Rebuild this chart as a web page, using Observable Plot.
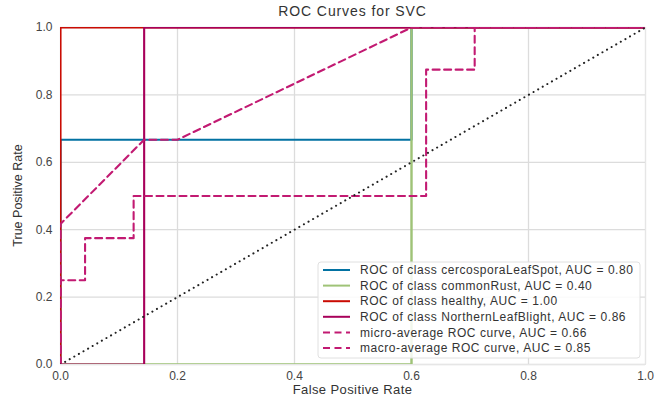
<!DOCTYPE html>
<html><head><meta charset="utf-8">
<script src="https://cdn.jsdelivr.net/npm/d3@7"></script>
<script src="https://cdn.jsdelivr.net/npm/@observablehq/plot@0.6"></script>
<style>
body{margin:0;background:#fff;}
#chart svg{font-family:"Liberation Sans",Arial,sans-serif;}
</style>
</head><body><div id="chart"></div>
<script>
const title = "ROC Curves for SVC";
const xLabel = "False Positive Rate";
const yLabel = "True Positive Rate";
const ticks = [0, 0.2, 0.4, 0.6, 0.8, 1.0];

const seriesNames = [
  "ROC of class cercosporaLeafSpot, AUC = 0.80",
  "ROC of class commonRust, AUC = 0.40",
  "ROC of class healthy, AUC = 1.00",
  "ROC of class NorthernLeafBlight, AUC = 0.86",
  "micro-average ROC curve, AUC = 0.66",
  "macro-average ROC curve, AUC = 0.85"
];
const seriesColors = ["#0272a2", "#9fc377", "#ca0b03", "#a8005a", "#c21a72", "#c21a72"];
const seriesDashed = [false, false, false, false, true, true];

const fpr0 = [0, 0, 0.6, 0.6, 1];
const tpr0 = [0, 0.667, 0.667, 1, 1];
const fpr1 = [0, 0.6, 0.6, 1];
const tpr1 = [0, 0, 1, 1];
const fpr2 = [0, 0, 1];
const tpr2 = [0, 1, 1];
const fpr3 = [0, 0.143, 0.143, 1];
const tpr3 = [0, 0, 1, 1];
const fprMicro = [0, 0, 0.143, 0.2, 0.6, 1];
const tprMicro = [0, 0.417, 0.667, 0.667, 1, 1];
const fprMacro = [0, 0, 0.042, 0.042, 0.125, 0.125, 0.625, 0.625, 0.708, 0.708, 1];
const tprMacro = [0, 0.25, 0.25, 0.375, 0.375, 0.5, 0.5, 0.875, 0.875, 1, 1];
const diagX = [0, 1];
const diagY = [0, 1];

const fprs = [fpr0, fpr1, fpr2, fpr3, fprMicro, fprMacro];
const tprs = [tpr0, tpr1, tpr2, tpr3, tprMicro, tprMacro];

const W = 655, H = 400;
const mL = 60, mR = 10, mT = 27, mB = 36;

const marks = [
  Plot.gridX(ticks, {stroke: "#dcdcdc", strokeOpacity: 1, strokeWidth: 1.3}),
  Plot.gridY(ticks, {stroke: "#dcdcdc", strokeOpacity: 1, strokeWidth: 1.3}),
  Plot.frame({stroke: "#e6e6e6", strokeWidth: 1})
];
fprs.forEach((f, i) => {
  const rows = f.map((x, j) => ({x, y: tprs[i][j]}));
  marks.push(Plot.line(rows, {
    x: "x", y: "y", stroke: seriesColors[i], strokeWidth: i === 1 ? 2.4 : 2.1,
    strokeDasharray: seriesDashed[i] ? "7,4.5" : null,
    curve: "linear", clip: true
  }));
});
marks.push(Plot.line(diagX.map((x, j) => ({x, y: diagY[j]})), {
  x: "x", y: "y", stroke: "#222", strokeWidth: 2, strokeDasharray: "0.1,5.2",
  strokeLinecap: "round", clip: true
}));

const plot = Plot.plot({
  width: W, height: H,
  marginLeft: mL, marginRight: mR, marginTop: mT, marginBottom: mB,
  style: {fontFamily: "Liberation Sans, Arial, sans-serif", fontSize: "12px", color: "#444", background: "#fff"},
  x: {domain: [0, 1], ticks: ticks, tickFormat: d3.format(".1f"), tickSize: 0, tickPadding: 7, label: null},
  y: {domain: [0, 1], ticks: ticks, tickFormat: d3.format(".1f"), tickSize: 0, tickPadding: 8, label: null},
  marks
});
document.getElementById("chart").appendChild(plot);

const svg = d3.select(plot);
const pw = W - mL - mR, ph = H - mT - mB;
svg.append("text").attr("x", mL + pw / 2).attr("y", 16).attr("text-anchor", "middle")
  .attr("font-size", 14).attr("letter-spacing", 0.9).attr("fill", "#333").text(title);
svg.append("text").attr("x", mL + pw / 2).attr("y", 394).attr("text-anchor", "middle")
  .attr("font-size", 13).attr("letter-spacing", 0.4).attr("fill", "#333").text(xLabel);
svg.append("text").attr("transform", `translate(22,${mT + ph / 2}) rotate(-90)`).attr("text-anchor", "middle")
  .attr("font-size", 12.5).attr("fill", "#333").text(yLabel);

// legend
const lx = 318, ly = 262, lw = 322, lh = 96;
const lg = svg.append("g").attr("text-anchor", "start");
lg.append("rect").attr("x", lx).attr("y", ly).attr("width", lw).attr("height", lh)
  .attr("rx", 3).attr("fill", "rgba(255,255,255,0.85)").attr("stroke", "#e0e0e0");
seriesNames.forEach((name, i) => {
  const y = ly + 8 + i * 15.6;
  lg.append("line").attr("x1", lx + 5).attr("x2", lx + 32).attr("y1", y).attr("y2", y)
    .attr("stroke", seriesColors[i]).attr("stroke-width", 2)
    .attr("stroke-dasharray", seriesDashed[i] ? "7,4.5" : null);
  lg.append("text").attr("x", lx + 42).attr("y", y).attr("dy", "0.35em")
    .attr("text-anchor", "start").attr("letter-spacing", 0.55)
    .attr("font-size", 12).attr("fill", "#333").text(name);
});
</script>
</body></html>
